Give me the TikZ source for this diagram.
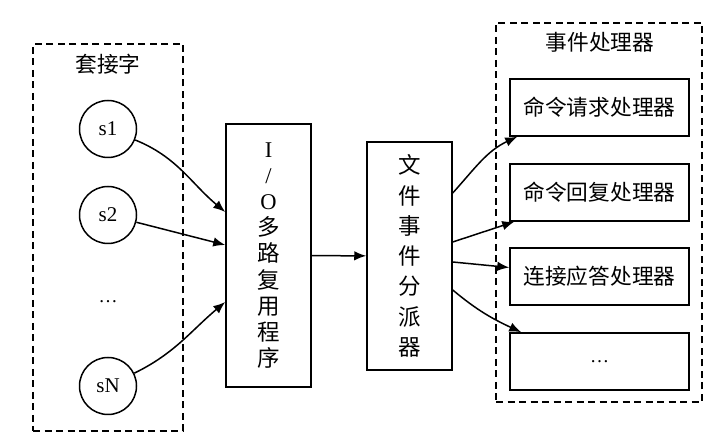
\documentclass[tikz,border=0pt]{standalone}
\usepackage{fontspec}
\setmainfont{Liberation Serif}
\newfontfamily\cjk{Noto Sans CJK SC}
\usetikzlibrary{arrows.meta}

\tikzset{
  group/.style={draw, dash pattern=on 7pt off 4.5pt, line width=1.3pt},
  sock/.style={draw, circle, minimum size=57pt, inner sep=0pt,
    font=\fontsize{21}{21}\selectfont},
  procbox/.style={draw, minimum width=85pt, inner sep=0pt, align=center},
  handler/.style={draw, minimum width=179pt, minimum height=57pt, inner sep=0pt,
    font=\cjk\fontsize{21.7}{21.7}\selectfont},
  title/.style={font=\cjk\fontsize{21.7}{21.7}\selectfont}
}

\begin{document}
\begin{tikzpicture}[x=1pt, y=1pt, line width=1.5pt, >={Latex[length=12pt,width=9.5pt]}]
    \useasboundingbox (0,0) rectangle (720,446);
    % sockets
    \node[group, minimum width=150pt, minimum height=387pt] (sockets) at (108,208.5) {};
    \node[title] (socktitle) at (108,382) {套接字};
    \node[sock] (s1) at (108,317) {s1};
    \node[sock] (s2) at (108,231) {s2};
    \node[font=\fontsize{19}{19}\selectfont] (sdots) at (108,144) {\dots};
    \node[sock] (sN) at (108,60) {sN};
    % multiplexer and dispatcher
    \node[procbox, minimum height=263pt, font=\cjk\fontsize{22.5}{26.2}\selectfont] (io) at (268.5,190.5)
      {\textrm{I}\\\textrm{/}\\\textrm{O}\\多\\路\\复\\用\\程\\序};
    \node[procbox, minimum height=228pt, font=\cjk\fontsize{22.5}{30.3}\selectfont] (disp) at (409.5,190)
      {文\\件\\事\\件\\分\\派\\器};
    % handlers
    \node[group, minimum width=206pt, minimum height=379pt] (handlers) at (599,233.5) {};
    \node[title] (handtitle) at (600,404) {事件处理器};
    \node[handler] (h1) at (599.5,338.5) {命令请求处理器};
    \node[handler] (h2) at (599.5,253.5) {命令回复处理器};
    \node[handler] (h3) at (599.5,169.5) {连接应答处理器};
    \node[handler, font=\fontsize{19}{19}\selectfont] (h4) at (599.5,84.5) {\dots};

    \draw[->] (s1) to[out=-22, in=140] ([yshift=43.5pt]io.west);
    \draw[->] (s2) -- ([yshift=10.5pt]io.west);
    \draw[->] (sN) to[out=26, in=220] ([yshift=-46.5pt]io.west);
    \draw[->] (io) -- (disp);
    \draw[->] ([yshift=63pt]disp.east) to[out=48, in=205] ([xshift=8pt]h1.south west);
    \draw[->] ([yshift=14pt]disp.east) -- ([xshift=5pt]h2.south west);
    \draw[->] ([yshift=-6pt]disp.east) -- ([yshift=9pt]h3.west);
    \draw[->] ([yshift=-34pt]disp.east) to[out=-40, in=155] ([xshift=12pt]h4.north west);
\end{tikzpicture}
\end{document}
